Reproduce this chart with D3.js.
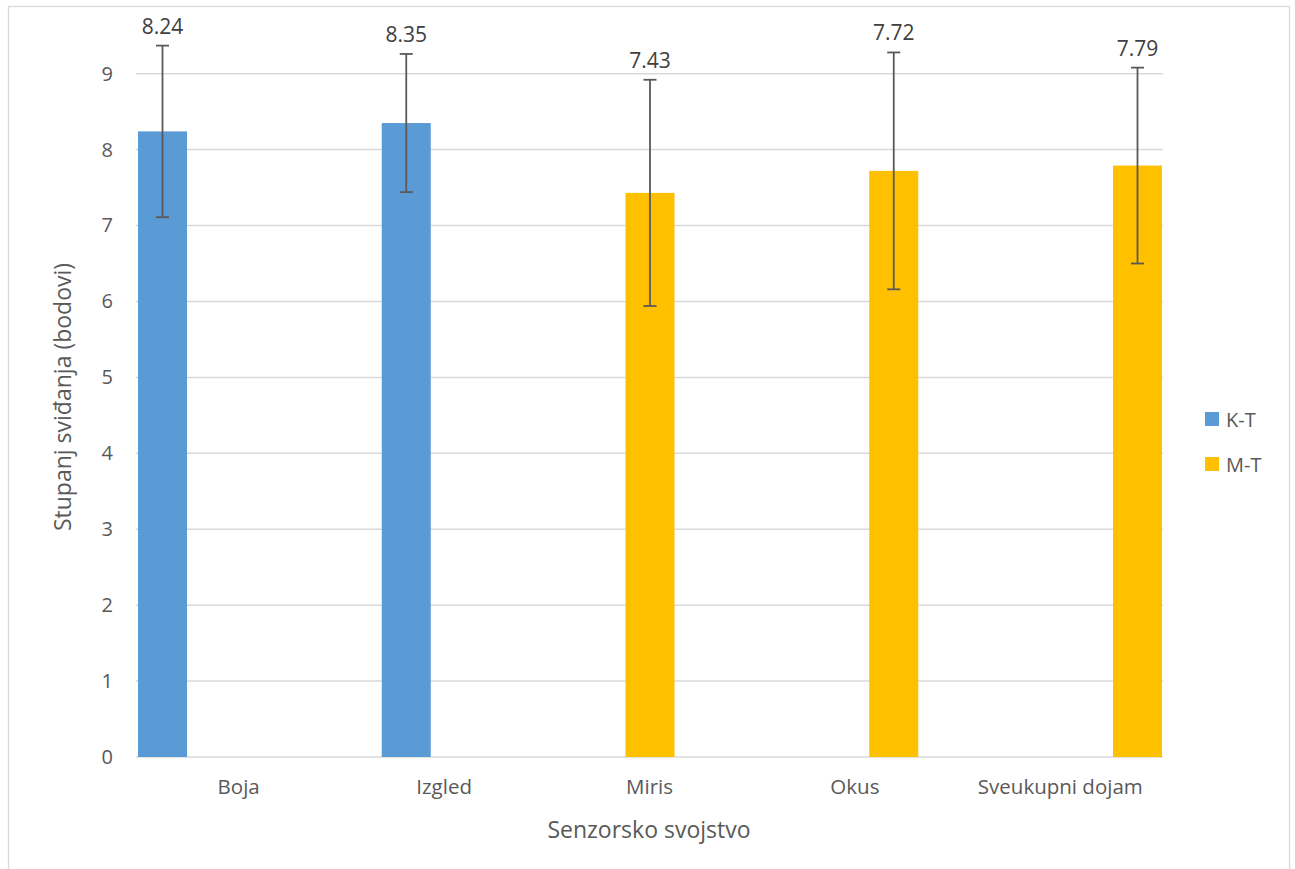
<!DOCTYPE html>
<html>
<head>
<meta charset="utf-8">
<script src="https://cdn.jsdelivr.net/npm/d3@7"></script>
<style>
  html, body { margin: 0; padding: 0; background: #fff; }
  svg { display: block; font-family: "Open Sans", "Noto Sans", sans-serif; }
</style>
</head>
<body>
<svg id="chart" width="1295" height="869"></svg>
<script>
// ---- data ----
const categories = ["Boja", "Izgled", "Miris", "Okus", "Sveukupni dojam"];
const seriesNames = ["K-T", "M-T"];
const seriesColors = ["#5b9bd5", "#ffc000"];
const ktValues = [8.24, 8.35, null, null, null];
const mtValues = [null, null, 7.43, 7.72, 7.79];
const errValues = [1.13, 0.91, 1.49, 1.56, 1.29];
const yTicks = [0, 1, 2, 3, 4, 5, 6, 7, 8, 9];
const xTitle = "Senzorsko svojstvo";
const yTitle = "Stupanj sviđanja (bodovi)";

// ---- layout ----
const plot = { left: 136, right: 1163, top: 73.7, bottom: 757 };
const FONT = '"Open Sans", "Noto Sans", sans-serif';
const svg = d3.select("#chart");

// chart frame
svg.append("rect")
  .attr("x", 8.5).attr("y", 6.5)
  .attr("width", 1281).attr("height", 880)
  .attr("fill", "#fff").attr("stroke", "#d9d9d9").attr("stroke-width", 1.3);

const x = d3.scaleBand().domain(categories).range([plot.left, plot.right]).padding(0);
const y = d3.scaleLinear().domain([0, 9]).range([plot.bottom, plot.top]);
const barW = 49;
const slot = d3.scaleLinear().domain([0, categories.length - 1]).range([2, x.bandwidth() - barW - 1]);

// gridlines
svg.append("g").selectAll("line").data(yTicks).join("line")
  .attr("x1", plot.left).attr("x2", plot.right)
  .attr("y1", d => y(d)).attr("y2", d => y(d))
  .attr("stroke", "#d9d9d9").attr("stroke-width", 1.5);

// y axis tick labels
const yAxis = d3.axisLeft(y).tickValues(yTicks).tickSize(0).tickPadding(0).tickFormat(d3.format("d"));
const gy = svg.append("g").attr("transform", `translate(${plot.left - 23},0)`).call(yAxis);
gy.select(".domain").remove();
gy.selectAll("text").attr("fill", "#595959").style("font-size", "20px").style("font-family", FONT);

// x axis labels
const xAxis = d3.axisBottom(x).tickSize(0).tickPadding(0);
const gx = svg.append("g").attr("transform", `translate(0,${plot.bottom + 22})`).call(xAxis);
gx.select(".domain").remove();
gx.selectAll("text").attr("fill", "#595959").style("font-size", "20.5px").style("font-family", FONT);

// bars
const rows = categories.map((c, i) => {
  const s = ktValues[i] != null ? 0 : 1;
  const v = s === 0 ? ktValues[i] : mtValues[i];
  return { c, i, s, v, e: errValues[i] };
});

svg.append("g").selectAll("rect").data(rows).join("rect")
  .attr("x", d => x(d.c) + slot(d.i))
  .attr("y", d => y(d.v))
  .attr("width", barW)
  .attr("height", d => y(0) - y(d.v))
  .attr("fill", d => seriesColors[d.s]);

// error bars
const eg = svg.append("g").attr("stroke", "#595959").attr("stroke-width", 1.8);
rows.forEach(d => {
  const cx = x(d.c) + slot(d.i) + barW / 2;
  eg.append("line").attr("x1", cx).attr("x2", cx).attr("y1", y(d.v + d.e)).attr("y2", y(d.v - d.e));
  eg.append("line").attr("x1", cx - 6.5).attr("x2", cx + 6.5).attr("y1", y(d.v + d.e)).attr("y2", y(d.v + d.e));
  eg.append("line").attr("x1", cx - 6.5).attr("x2", cx + 6.5).attr("y1", y(d.v - d.e)).attr("y2", y(d.v - d.e));
});

// value labels
svg.append("g").selectAll("text").data(rows).join("text")
  .attr("x", d => x(d.c) + slot(d.i) + barW / 2)
  .attr("y", d => y(d.v + d.e) - 20)
  .attr("text-anchor", "middle").attr("dominant-baseline", "central")
  .attr("fill", "#404040").style("font-size", "21px")
  .text(d => d.v.toFixed(2));

// axis titles
svg.append("text")
  .attr("x", 649).attr("y", 829)
  .attr("text-anchor", "middle").attr("dominant-baseline", "central")
  .attr("fill", "#595959").style("font-size", "23px").text(xTitle);

svg.append("text")
  .attr("transform", `translate(62,397) rotate(-90)`)
  .attr("text-anchor", "middle").attr("dominant-baseline", "central")
  .attr("fill", "#595959").style("font-size", "23px").text(yTitle);

// legend
const lg = svg.append("g").attr("transform", "translate(1205,412)");
seriesNames.forEach((n, i) => {
  const g = lg.append("g").attr("transform", `translate(0,${i * 45})`);
  g.append("rect").attr("width", 14).attr("height", 14).attr("fill", seriesColors[i]);
  g.append("text").attr("x", 21).attr("y", 7).attr("dominant-baseline", "central")
    .attr("fill", "#595959").style("font-size", "20px").text(n);
});
</script>
</body>
</html>
